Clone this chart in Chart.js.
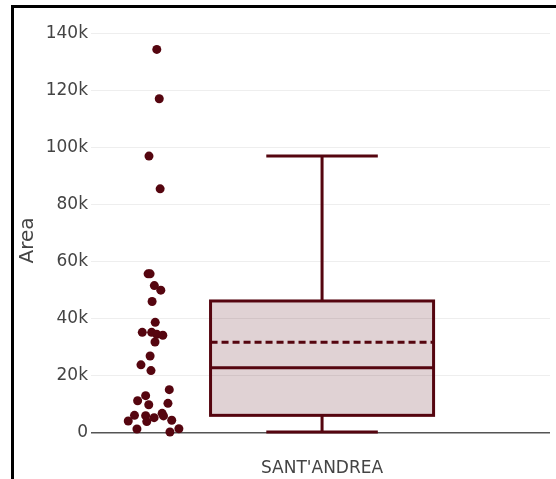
<!DOCTYPE html>
<html>
<head>
<meta charset="utf-8">
<script src="https://cdn.jsdelivr.net/npm/chart.js@4/dist/chart.umd.min.js"></script>
<style>
  html, body { margin: 0; padding: 0; background: #fff; }
  #wrap { position: relative; width: 556px; height: 479px; overflow: hidden; }
  #frame { position: absolute; left: 11px; top: 5px; width: 600px; height: 600px;
           border-left: 3px solid #000; border-top: 3px solid #000; box-sizing: border-box; pointer-events: none; }
  canvas { position: absolute; left: 0; top: 0; }
</style>
</head>
<body>
<div id="wrap">
  <canvas id="c" width="556" height="479"></canvas>
  <div id="frame"></div>
</div>
<script>
// ---- data ----
const categories = ["SANT'ANDREA"];
const yTickValues = [0, 20000, 40000, 60000, 80000, 100000, 120000, 140000];

// box statistics (one entry per category)
const boxLowerWhisker = [400];
const boxQ1 = [6200];
const boxMedian = [22900];
const boxMean = [31800];
const boxQ3 = [46300];
const boxUpperWhisker = [97100];

// individual observations (jittered x position relative to category, value)
const pointOffsets = [-0.741, -0.730, -0.776, -0.726, -0.780, -0.771, -0.752, -0.723, -0.762, -0.748,
                      -0.806, -0.764, -0.741, -0.714, -0.749, -0.771, -0.812, -0.767, -0.685, -0.791,
                      -0.827, -0.777, -0.691, -0.841, -0.869, -0.791, -0.786, -0.753, -0.717, -0.711,
                      -0.674, -0.830, -0.682, -0.642];
const pointValues = [134500, 117200, 97100, 85600, 55800, 55800, 51700, 50100, 46100, 38800,
                     35300, 35300, 34600, 34300, 31900, 27000, 23900, 21900, 15200, 13100,
                     11300, 9900, 10400, 6200, 4200, 6100, 4000, 5400, 6900, 6000,
                     4500, 1400, 350, 1500];

// ---- styling ----
const MAIN = 'rgb(85,5,15)';
const FILL = 'rgba(85,5,15,0.18)';
const TEXT = '#444';

Chart.defaults.font.family = '"DejaVu Sans", Verdana, sans-serif';
Chart.defaults.color = TEXT;

const boxPlugin = {
  id: 'boxPlot',
  beforeDatasetsDraw(chart) {
    const { ctx, scales: { x, y } } = chart;
    const halfW = 0.5, capHalfW = 0.25;
    categories.forEach((cat, i) => {
      const xl = x.getPixelForValue(i - halfW);
      const xr = x.getPixelForValue(i + halfW);
      const xc = x.getPixelForValue(i);
      const cl = x.getPixelForValue(i - capHalfW);
      const cr = x.getPixelForValue(i + capHalfW);
      const yq1 = y.getPixelForValue(boxQ1[i]);
      const yq3 = y.getPixelForValue(boxQ3[i]);
      const ymed = y.getPixelForValue(boxMedian[i]);
      const ymean = y.getPixelForValue(boxMean[i]);
      const ylo = y.getPixelForValue(boxLowerWhisker[i]);
      const yhi = y.getPixelForValue(boxUpperWhisker[i]);
      ctx.save();
      ctx.strokeStyle = MAIN;
      ctx.lineWidth = 3;
      ctx.lineCap = 'butt';
      // box
      ctx.fillStyle = FILL;
      ctx.fillRect(xl, yq3, xr - xl, yq1 - yq3);
      ctx.strokeRect(xl, yq3, xr - xl, yq1 - yq3);
      // whiskers
      ctx.beginPath();
      ctx.moveTo(xc, yq3); ctx.lineTo(xc, yhi);
      ctx.moveTo(cl, yhi); ctx.lineTo(cr, yhi);
      ctx.moveTo(xc, yq1); ctx.lineTo(xc, ylo);
      ctx.moveTo(cl, ylo); ctx.lineTo(cr, ylo);
      ctx.stroke();
      // median
      ctx.beginPath();
      ctx.moveTo(xl, ymed); ctx.lineTo(xr, ymed);
      ctx.stroke();
      // mean (dashed)
      ctx.setLineDash([7, 4]);
      ctx.beginPath();
      ctx.moveTo(xl, ymean); ctx.lineTo(xr, ymean);
      ctx.stroke();
      ctx.restore();
    });
  }
};

const scatterData = pointValues.map((v, k) => ({ x: pointOffsets[k], y: v }));

new Chart(document.getElementById('c'), {
  type: 'scatter',
  data: {
    datasets: [{
      data: scatterData,
      pointRadius: 4.5,
      pointHoverRadius: 4.5,
      pointBackgroundColor: MAIN,
      pointBorderWidth: 0,
      clip: false
    }]
  },
  options: {
    responsive: false,
    animation: false,
    events: [],
    layout: { padding: { left: 0, right: 6, top: 28, bottom: 0 } },
    plugins: { legend: { display: false }, tooltip: { enabled: false } },
    scales: {
      x: {
        type: 'linear',
        min: -1.036,
        max: 1.022,
        grid: { display: false },
        border: { display: false },
        afterBuildTicks(scale) { scale.ticks = categories.map((c, i) => ({ value: i })); },
        afterFit(scale) { scale.height = 26; },
        ticks: {
          padding: -3,
          font: { size: 17 },
          color: TEXT,
          maxRotation: 0,
          callback: (v) => categories[v] !== undefined ? categories[v] : ''
        }
      },
      y: {
        type: 'linear',
        min: -7000,
        max: 142000,
        afterBuildTicks(scale) { scale.ticks = yTickValues.map(v => ({ value: v })); },
        afterFit(scale) { scale.width = 91; },
        grid: {
          drawTicks: false,
          color: (c) => (c.tick && c.tick.value === 0) ? '#555' : '#eeeeee',
          lineWidth: (c) => (c.tick && c.tick.value === 0) ? 1.5 : 1
        },
        border: { display: false },
        ticks: {
          padding: 3,
          font: { size: 17 },
          color: TEXT,
          callback: (v) => v === 0 ? '0' : (v / 1000) + 'k'
        },
        title: {
          display: true,
          text: 'Area',
          color: TEXT,
          font: { size: 20 },
          padding: { top: 16, bottom: 0 }
        }
      }
    }
  },
  plugins: [boxPlugin]
});
</script>
</body>
</html>
